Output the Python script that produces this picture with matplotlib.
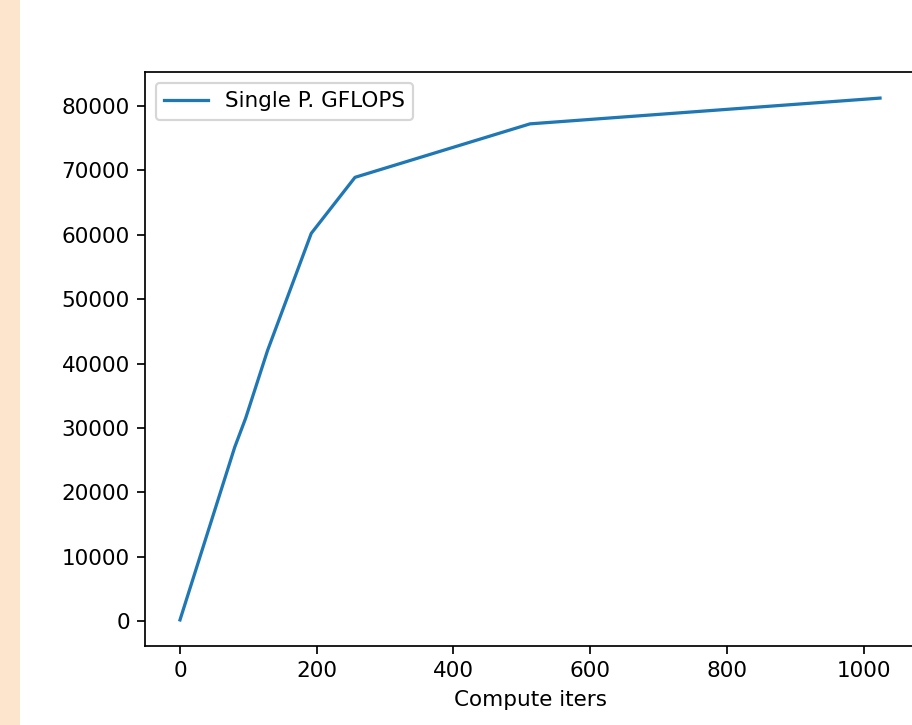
import matplotlib
matplotlib.use('Agg')
import matplotlib.pyplot as plt
from matplotlib.patches import Rectangle

iters = [0, 80, 96, 128, 192, 256, 512, 1024]
gflops = [200, 27000, 31500, 42000, 60200, 68900, 77200, 81200]

W, H = 912, 725
dpi = 155.2
fig = plt.figure(figsize=(W / dpi, H / dpi), dpi=dpi)

# 왼쪽 살구색 띠
fig.patches.append(Rectangle((0, 0), 20 / W, 1, transform=fig.transFigure,
                             facecolor='#fde5cd', edgecolor='none', zorder=0))

# 오른쪽 테두리는 그림 밖으로
ax = fig.add_axes([145 / W, (H - 646) / H, 772 / W, 574 / H])
ax.plot(iters, gflops, label='Single P. GFLOPS')
ax.set_xlim(-51.2, 1075.2 + 2.9)
ax.set_xlabel('Compute iters')
ax.legend(loc='upper left')

fig.savefig('out.png', dpi=dpi)
